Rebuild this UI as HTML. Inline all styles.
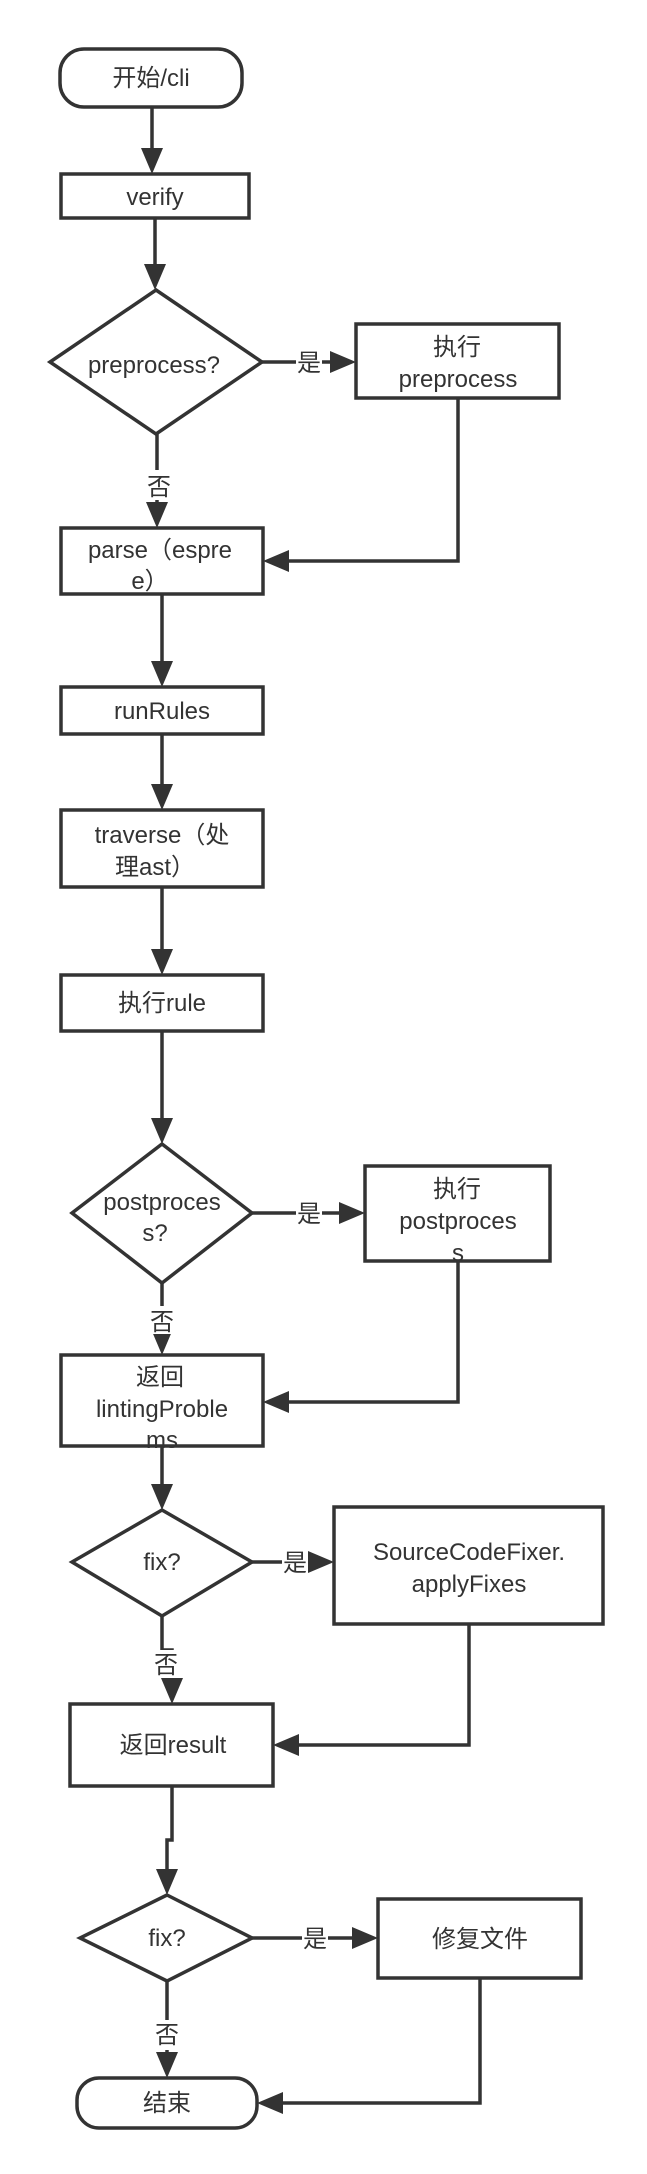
<!DOCTYPE html>
<html><head><meta charset="utf-8"><style>
html,body{margin:0;padding:0;background:#fff}
svg{display:block}
text{font-family:"Liberation Sans","Noto Sans CJK SC",sans-serif;font-size:24px;fill:#333;text-anchor:middle}
.s{fill:#fff;stroke:#333;stroke-width:3.5}
.l{fill:none;stroke:#333;stroke-width:3.5}
.a{fill:#333}
</style></head><body>
<svg width="647" height="2174" viewBox="0 0 647 2174" xmlns="http://www.w3.org/2000/svg">
<!-- start -->
<rect class="s" x="60" y="49" width="182" height="58" rx="24"/>
<text x="151" y="86">开始/cli</text>
<path class="l" d="M152 107V150"/><polygon class="a" points="141,148 163,148 152,174"/>
<!-- verify -->
<rect class="s" x="61" y="174" width="188" height="44"/>
<text x="155" y="205">verify</text>
<path class="l" d="M155 218V266"/><polygon class="a" points="144,264 166,264 155,290"/>
<!-- diamond 1 -->
<polygon class="s" points="156,290 262,362 156,434 50,362"/>
<text x="154" y="373">preprocess?</text>
<path class="l" d="M262 362H332"/><polygon class="a" points="330,351 330,373 356,362"/>
<rect x="296" y="348" width="26" height="28" fill="#fff"/><text x="309" y="371">是</text>
<rect class="s" x="356" y="324" width="203" height="74"/>
<text x="457" y="355">执行</text><text x="458" y="387">preprocess</text>
<path class="l" d="M157 434V504"/><polygon class="a" points="146,502 168,502 157,528"/>
<rect x="145" y="470" width="28" height="30" fill="#fff"/><text x="159" y="495">否</text>
<path class="l" d="M458 398V561H287"/><polygon class="a" points="289,550 289,572 263,561"/>
<!-- parse -->
<rect class="s" x="61" y="528" width="202" height="66"/>
<text x="160" y="558">parse（espre</text><text x="150" y="589">e）</text>
<path class="l" d="M162 594V663"/><polygon class="a" points="151,661 173,661 162,687"/>
<!-- runRules -->
<rect class="s" x="61" y="687" width="202" height="47"/>
<text x="162" y="719">runRules</text>
<path class="l" d="M162 734V786"/><polygon class="a" points="151,784 173,784 162,810"/>
<!-- traverse -->
<rect class="s" x="61" y="810" width="202" height="77"/>
<text x="162" y="843">traverse（处</text><text x="155" y="875">理ast）</text>
<path class="l" d="M162 887V951"/><polygon class="a" points="151,949 173,949 162,975"/>
<!-- 执行rule -->
<rect class="s" x="61" y="975" width="202" height="56"/>
<text x="162" y="1011">执行rule</text>
<path class="l" d="M162 1031V1120"/><polygon class="a" points="151,1118 173,1118 162,1144"/>
<!-- diamond 2 -->
<polygon class="s" points="162,1144 252,1213 162,1283 72,1213"/>
<text x="162" y="1210">postproces</text><text x="155" y="1241">s?</text>
<path class="l" d="M252 1213H341"/><polygon class="a" points="339,1202 339,1224 365,1213"/>
<rect x="296" y="1199" width="26" height="28" fill="#fff"/><text x="309" y="1222">是</text>
<rect class="s" x="365" y="1166" width="185" height="95"/>
<text x="457" y="1197">执行</text><text x="458" y="1229">postproces</text><text x="458" y="1261">s</text>
<path class="l" d="M162 1283V1331"/><polygon class="a" points="151,1329 173,1329 162,1355"/>
<rect x="148" y="1306" width="28" height="28" fill="#fff"/><text x="162" y="1330">否</text>
<path class="l" d="M458 1261V1402H287"/><polygon class="a" points="289,1391 289,1413 263,1402"/>
<!-- lintingProblems -->
<rect class="s" x="61" y="1355" width="202" height="91"/>
<text x="160" y="1385">返回</text><text x="162" y="1417">lintingProble</text><text x="162" y="1448">ms</text>
<path class="l" d="M162 1446V1486"/><polygon class="a" points="151,1484 173,1484 162,1510"/>
<!-- diamond 3 -->
<polygon class="s" points="162,1510 252,1562 162,1616 72,1562"/>
<text x="162" y="1570">fix?</text>
<path class="l" d="M252 1562H310"/><polygon class="a" points="308,1551 308,1573 334,1562"/>
<rect x="282" y="1548" width="26" height="28" fill="#fff"/><text x="295" y="1571">是</text>
<rect class="s" x="334" y="1507" width="269" height="117"/>
<text x="469" y="1560">SourceCodeFixer.</text><text x="469" y="1592">applyFixes</text>
<path class="l" d="M162 1616V1650H172V1680"/><polygon class="a" points="161,1678 183,1678 172,1704"/>
<rect x="153" y="1650" width="30" height="28" fill="#fff"/><text x="166" y="1673">否</text>
<path class="l" d="M469 1624V1745H297"/><polygon class="a" points="299,1734 299,1756 273,1745"/>
<!-- result -->
<rect class="s" x="70" y="1704" width="203" height="82"/>
<text x="173" y="1753">返回result</text>
<path class="l" d="M172 1786V1840H167V1871"/><polygon class="a" points="156,1869 178,1869 167,1895"/>
<!-- diamond 4 -->
<polygon class="s" points="167,1895 252,1938 167,1981 80,1938"/>
<text x="167" y="1946">fix?</text>
<path class="l" d="M252 1938H354"/><polygon class="a" points="352,1927 352,1949 378,1938"/>
<rect x="302" y="1924" width="26" height="28" fill="#fff"/><text x="315" y="1947">是</text>
<rect class="s" x="378" y="1899" width="203" height="79"/>
<text x="480" y="1947">修复文件</text>
<path class="l" d="M167 1981V2054"/><polygon class="a" points="156,2052 178,2052 167,2078"/>
<rect x="153" y="2020" width="28" height="30" fill="#fff"/><text x="167" y="2043">否</text>
<path class="l" d="M480 1978V2103H281"/><polygon class="a" points="283,2092 283,2114 257,2103"/>
<!-- end -->
<rect class="s" x="77" y="2078" width="180" height="50" rx="22"/>
<text x="167" y="2111">结束</text>
</svg>
</body></html>
